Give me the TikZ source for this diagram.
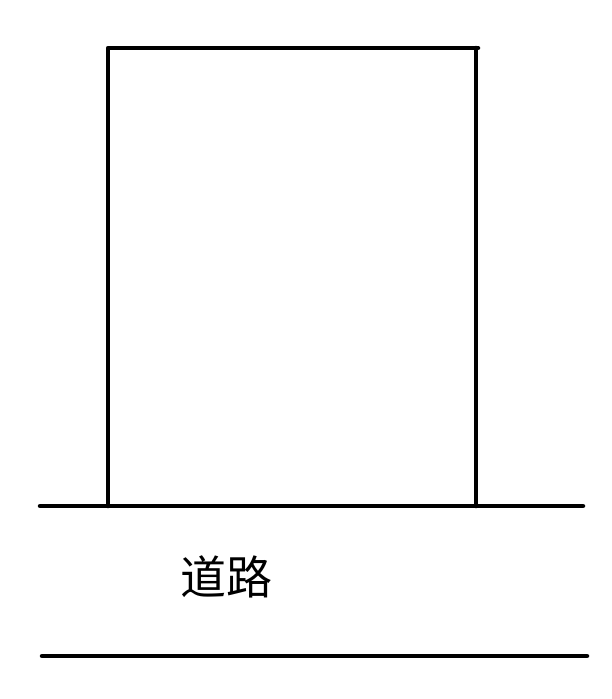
\documentclass[tikz,border=0pt]{standalone}
\usepackage{fontspec}
\newfontfamily\cjk{Noto Sans CJK SC}
\begin{document}
\begin{tikzpicture}[x=1pt,y=-1pt,
  edge/.style={line width=4.5pt,line cap=round,line join=round}]
\useasboundingbox (0,0) rectangle (611,699);
\coordinate (bl) at (108,506);
\coordinate (tl) at (108,48);
\coordinate (tr) at (478,48);
\coordinate (trv) at (476,48);
\coordinate (br) at (476,506);
\coordinate (r1a) at (40,506);
\coordinate (r1b) at (583,506);
\coordinate (r2a) at (42,656);
\coordinate (r2b) at (587,656);
\draw[edge] (bl) -- (tl) -- (tr);
\draw[edge] (trv) -- (br);
\draw[edge] (r1a) -- (r1b);
\draw[edge] (r2a) -- (r2b);
\node[font=\cjk\fontsize{46}{50}\selectfont, inner sep=0pt] (road) at (226,577) {道路};
\end{tikzpicture}
\end{document}
